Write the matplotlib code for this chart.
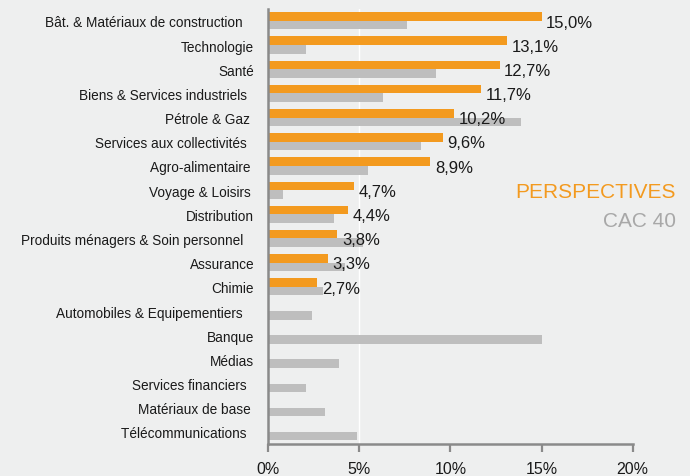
import matplotlib
matplotlib.use("Agg")
import matplotlib.pyplot as plt
import numpy as np

categories = [
    "Bât. & Matériaux de construction   ",
    "Technologie",
    "Santé",
    "Biens & Services industriels  ",
    "Pétrole & Gaz ",
    "Services aux collectivités  ",
    "Agro-alimentaire ",
    "Voyage & Loisirs ",
    "Distribution",
    "Produits ménagers & Soin personnel   ",
    "Assurance",
    "Chimie",
    "Automobiles & Equipementiers   ",
    "Banque",
    "Médias",
    "Services financiers  ",
    "Matériaux de base ",
    "Télécommunications  ",
]
perspectives = [15.0, 13.1, 12.7, 11.7, 10.2, 9.6, 8.9, 4.7, 4.4, 3.8, 3.3, 2.7,
                np.nan, np.nan, np.nan, np.nan, np.nan, np.nan]
cac40 = [7.6, 2.1, 9.2, 6.3, 13.9, 8.4, 5.5, 0.8, 3.6, 5.2, 4.2, 3.0,
         2.4, 15.0, 3.9, 2.1, 3.1, 4.9]
xticks = [0, 5, 10, 15, 20]
xticklabels = ["0%", "5%", "10%", "15%", "20%"]
series_names = ["PERSPECTIVES", "CAC 40"]

BG = "#eeefef"
ORANGE = "#f39a1f"
GRAY = "#bebebe"
AXIS = "#8a8a8a"

plt.rcParams['font.family'] = ['Liberation Sans', 'DejaVu Sans']

fig = plt.figure(figsize=(6.9, 4.77), dpi=100, facecolor=BG)
ax = fig.add_axes([268 / 690, 32 / 477, 364.7 / 690, 435.2 / 477])
ax.set_facecolor(BG)

n = len(categories)
y = np.arange(n)
h = 0.355
ax.barh(y - h / 2, perspectives, height=h, color=ORANGE, zorder=2)
ax.barh(y + h / 2, cac40, height=h, color=GRAY, zorder=2)

for yi, v in zip(y, perspectives):
    if not np.isnan(v):
        ax.text(v + 0.25, yi + 0.05, f"{v:.1f}%".replace(".", ","),
                ha="left", va="center", fontsize=12, color="#1a1a1a", zorder=3)

ax.axvline(xticks[1], color="white", lw=1.0, zorder=1)

ax.set_xlim(0, 20)
ax.set_ylim(n - 0.5, -0.5)
ax.set_xticks(xticks)
ax.set_xticklabels(xticklabels, fontsize=11.5, color="#1a1a1a")
ax.set_yticks(y)
ax.set_yticklabels(categories, fontsize=9.8, color="#1a1a1a")
ax.tick_params(axis="y", length=0, pad=10)
ax.tick_params(axis="x", length=6, width=1.6, color=AXIS, direction="out", pad=6)

for s in ["top", "right"]:
    ax.spines[s].set_visible(False)
for s in ["left", "bottom"]:
    ax.spines[s].set_color(AXIS)
    ax.spines[s].set_linewidth(1.8)

fig.text(676 / 690, 1 - 193 / 477, series_names[0], ha="right", va="center",
         fontsize=15, color=ORANGE)
fig.text(676 / 690, 1 - 221.5 / 477, series_names[1], ha="right", va="center",
         fontsize=15, color="#a8a8a8")

fig.savefig("out.png", dpi=100, facecolor=BG)
